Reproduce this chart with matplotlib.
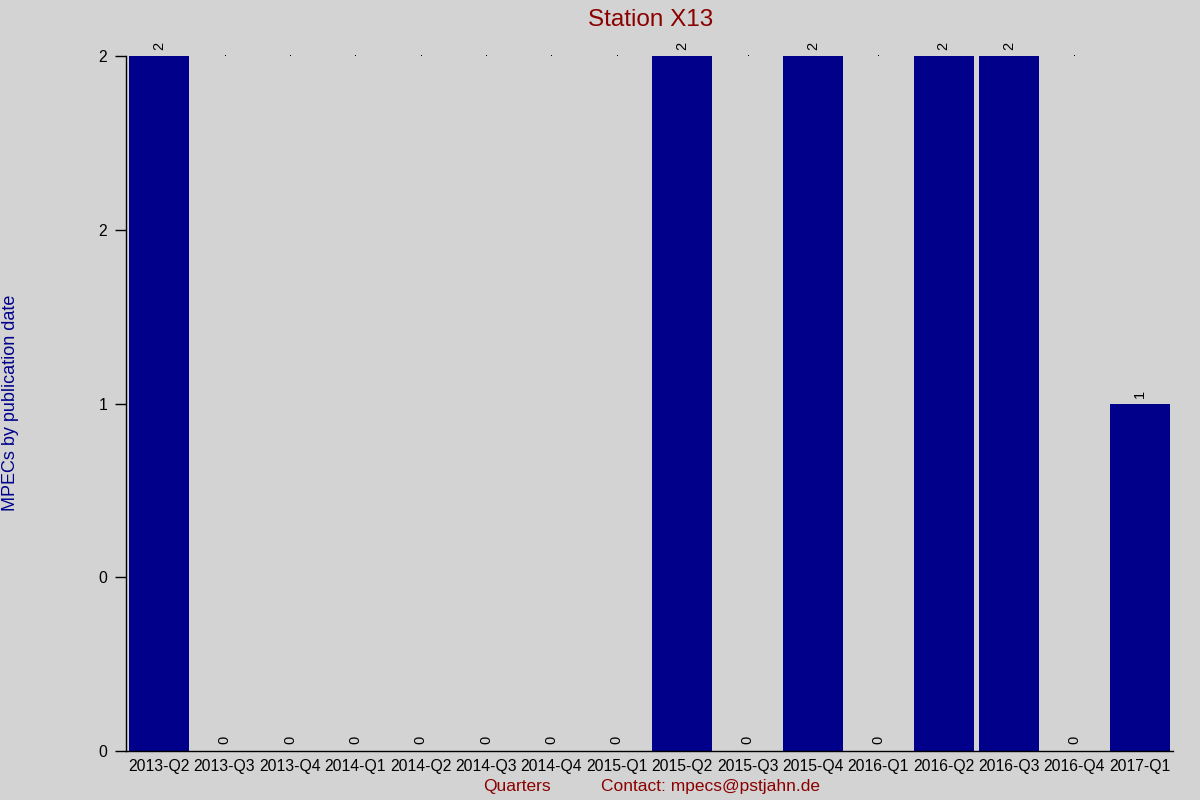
import matplotlib
matplotlib.use("Agg")
import matplotlib.pyplot as plt

quarters = ["2013-Q2", "2013-Q3", "2013-Q4", "2014-Q1", "2014-Q2", "2014-Q3",
            "2014-Q4", "2015-Q1", "2015-Q2", "2015-Q3", "2015-Q4", "2016-Q1",
            "2016-Q2", "2016-Q3", "2016-Q4", "2017-Q1"]
mpecs = [2, 0, 0, 0, 0, 0, 0, 0, 2, 0, 2, 0, 2, 2, 0, 1]
y_ticks = [0, 0.5, 1, 1.5, 2]

BG = "#d3d3d3"
BAR = "#00008b"
RED = "#8b0000"

plt.rcParams['font.family'] = ['Liberation Sans', 'DejaVu Sans']

fig = plt.figure(figsize=(12, 8), dpi=100, facecolor=BG)
ax = fig.add_axes([0.1054, 0.06125, 0.8717, 0.86875], facecolor=BG)

x = list(range(len(quarters)))
ax.bar(x, mpecs, width=0.92, color=BAR, zorder=2)

ax.set_xlim(-0.5, len(quarters) - 0.5)
ax.set_ylim(0, 2)
ax.set_xticks(x)
ax.set_xticklabels(quarters, fontsize=11.3)
ax.tick_params(axis='x', length=0, pad=6)
ax.set_yticks(y_ticks)
ax.set_yticklabels(["%.0f" % t for t in y_ticks], fontsize=11.3)
ax.tick_params(axis='y', length=8, width=1, pad=6)

for s in ["top", "right"]:
    ax.spines[s].set_visible(False)
ax.spines["left"].set_linewidth(1)
ax.spines["bottom"].set_linewidth(1)

# value labels
for xi, v in zip(x, mpecs):
    if v == 0:
        ax.annotate("0", (xi, v), xytext=(0, 5), textcoords="offset points",
                    rotation=90, ha="center", va="bottom", fontsize=10.5)
        ax.plot(xi, ax.get_ylim()[1], marker=",", color="black", clip_on=False)
    else:
        ax.annotate(str(v), (xi, v), xytext=(0, 4), textcoords="offset points",
                    rotation=90, ha="center", va="bottom", fontsize=10.5,
                    annotation_clip=False)

fig.text(0.542, 0.975, "Station X13", color=RED, fontsize=17.5,
         ha="center", va="center")
fig.text(0.0085, 0.496, "MPECs by publication date", color=BAR, fontsize=13,
         rotation=90, ha="center", va="center")
fig.text(0.431, 0.017, "Quarters", color=RED, fontsize=12.5,
         ha="center", va="center")
fig.text(0.592, 0.017, "Contact: mpecs@pstjahn.de", color=RED, fontsize=12.5,
         ha="center", va="center")

fig.savefig("out.png", dpi=100, facecolor=BG)
